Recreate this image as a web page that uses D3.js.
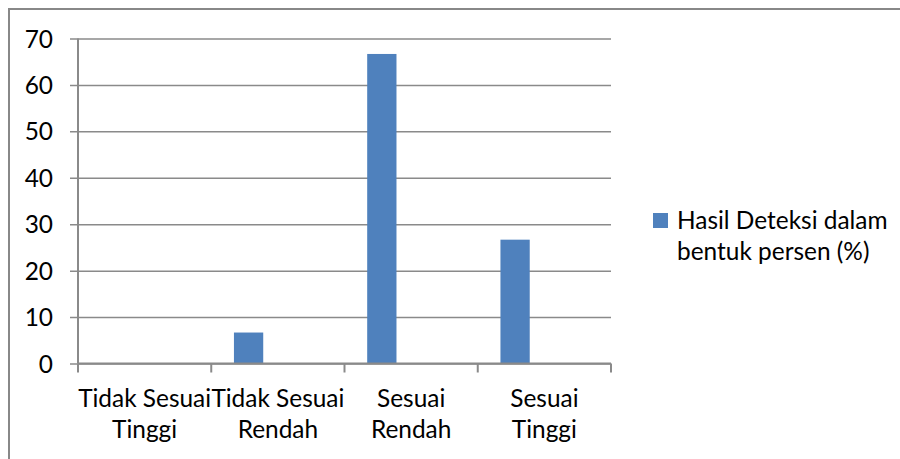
<!DOCTYPE html>
<html>
<head>
<meta charset="utf-8">
<script src="https://cdn.jsdelivr.net/npm/d3@7"></script>
<style>
  html, body { margin: 0; padding: 0; background: #fff; }
  svg { display: block; }
</style>
</head>
<body>
<svg id="chart" width="900" height="459"></svg>
<script>
const categories = [["Tidak Sesuai", "Tinggi"], ["Tidak Sesuai", "Rendah"], ["Sesuai", "Rendah"], ["Sesuai", "Tinggi"]];
const values = [0, 6.67, 66.67, 26.67];
const yTicks = [0, 10, 20, 30, 40, 50, 60, 70];
const seriesName = ["Hasil Deteksi dalam", "bentuk persen (%)"];

const W = 900, H = 459;
const svg = d3.select("#chart");
const FONT = "Lato, 'Open Sans', sans-serif";

// fit font size so the category label width matches the reference
const probe = svg.append("text").attr("font-family", FONT).attr("font-size", 100).text("Tidak Sesuai");
const fs = Math.min(26, 100 * 133 / probe.node().getComputedTextLength());
probe.remove();

const margin = { left: 78, right: 289, top: 38.5, bottom: 95.5 };
const x = d3.scaleBand().domain(d3.range(categories.length)).range([margin.left, W - margin.right]).padding(0);
const slot = d3.scaleBand().domain([0, 1, 2]).range([0, x.bandwidth()]).paddingInner(0).paddingOuter(0.775);
const y = d3.scaleLinear().domain([0, 70]).range([H - margin.bottom, margin.top]);

// outer border
svg.append("rect").attr("x", 9).attr("y", 9).attr("width", W).attr("height", H)
  .attr("fill", "none").attr("stroke", "#888").attr("stroke-width", 2);

// gridlines + y axis
const yAxis = d3.axisLeft(y).tickValues(yTicks).tickSize(0).tickPadding(0).tickFormat(d3.format("d"));
const gy = svg.append("g").attr("transform", `translate(${margin.left},0)`).call(yAxis);
gy.select(".domain").remove();
gy.selectAll(".tick line").remove();
gy.selectAll(".tick").append("line")
  .attr("x1", -8).attr("x2", W - margin.right - margin.left)
  .attr("stroke", "#8a8a8a").attr("stroke-width", 1.5);
gy.selectAll(".tick text").attr("x", -25).attr("dy", "0.35em")
  .attr("font-family", FONT).attr("font-size", fs).attr("fill", "#000").attr("text-anchor", "end");

// y axis line
svg.append("line").attr("x1", margin.left).attr("x2", margin.left)
  .attr("y1", y(70)).attr("y2", y(0)).attr("stroke", "#8a8a8a").attr("stroke-width", 2);

// bars
svg.append("g").selectAll("rect").data(values).join("rect")
  .attr("x", (d, i) => x(i) + slot(0))
  .attr("width", slot.bandwidth())
  .attr("y", d => y(d))
  .attr("height", d => y(0) - y(d))
  .attr("fill", "#4F81BD");

// x axis line
svg.append("line").attr("x1", margin.left).attr("x2", W - margin.right)
  .attr("y1", y(0)).attr("y2", y(0)).attr("stroke", "#8a8a8a").attr("stroke-width", 2);

// x ticks at band boundaries
const bounds = d3.range(categories.length + 1).map(i => i < categories.length ? x(i) : x(i - 1) + x.bandwidth());
svg.append("g").selectAll("line").data(bounds).join("line")
  .attr("x1", d => d).attr("x2", d => d)
  .attr("y1", y(0)).attr("y2", y(0) + 9)
  .attr("stroke", "#8a8a8a").attr("stroke-width", 2);

// x labels
const xl = svg.append("g").selectAll("text").data(categories).join("text")
  .attr("x", (d, i) => x(i) + x.bandwidth() / 2)
  .attr("y", 407)
  .attr("text-anchor", "middle")
  .attr("font-family", FONT).attr("font-size", fs).attr("fill", "#000");
xl.selectAll("tspan").data(d => d).join("tspan")
  .attr("x", function () { return this.parentNode.getAttribute("x"); })
  .attr("dy", (d, i) => i === 0 ? 0 : 31)
  .text(d => d);

// legend
const lg = svg.append("g");
lg.append("rect").attr("x", 653).attr("y", 213).attr("width", 15).attr("height", 15).attr("fill", "#4F81BD");
lg.append("text").attr("x", 677).attr("y", 229)
  .attr("font-family", FONT).attr("font-size", fs).attr("fill", "#000")
  .selectAll("tspan").data(seriesName).join("tspan")
  .attr("x", 677).attr("dy", (d, i) => i === 0 ? 0 : 31).text(d => d);
</script>
</body>
</html>
